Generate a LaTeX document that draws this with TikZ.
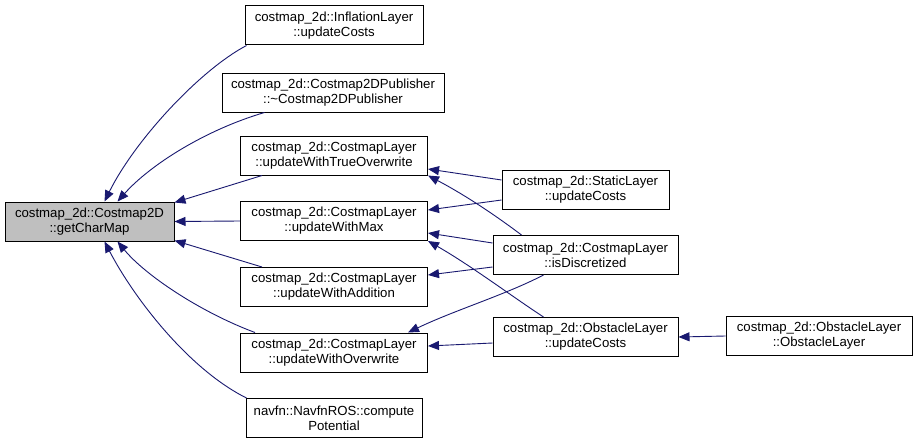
\documentclass[tikz,border=0pt]{standalone}
\usepackage{fontspec}
\setmainfont{Liberation Sans}
\usetikzlibrary{arrows.meta}
\definecolor{edgecol}{HTML}{191970}
\definecolor{rootfill}{HTML}{BFBFBF}
\begin{document}
\begin{tikzpicture}[x=1pt,y=-1pt,
  box/.style={draw=black,line width=1pt,fill=white,minimum height=39pt,inner sep=0pt,align=center,font=\fontsize{13.2}{15}\selectfont},
  edge/.style={draw=edgecol,line width=0.9pt,-{Triangle[length=11pt,width=9pt]}}]
\useasboundingbox (0,0) rectangle (917,444);
\fill[white] (0,0) rectangle (917,444);
\node[box,fill=rootfill,minimum width=169pt] (root) at (89.5,221.5) {costmap\_2d::Costmap2D\\::getCharMap};
\node[box,minimum width=178pt] (infl) at (334,25.5) {costmap\_2d::InflationLayer\\::updateCosts};
\node[box,minimum width=222pt] (pub) at (333,92.5) {costmap\_2d::Costmap2DPublisher\\::\textasciitilde Costmap2DPublisher};
\node[box,minimum width=187pt] (tow) at (334,155.5) {costmap\_2d::CostmapLayer\\::updateWithTrueOverwrite};
\node[box,minimum width=187pt] (max) at (334,221) {costmap\_2d::CostmapLayer\\::updateWithMax};
\node[box,minimum width=187pt] (add) at (334,287) {costmap\_2d::CostmapLayer\\::updateWithAddition};
\node[box,minimum width=187pt] (ow) at (334,352.5) {costmap\_2d::CostmapLayer\\::updateWithOverwrite};
\node[box,minimum width=176pt] (navfn) at (334,418) {navfn::NavfnROS::compute\\Potential};
\node[box,minimum width=167pt] (static) at (585.5,190) {costmap\_2d::StaticLayer\\::updateCosts};
\node[box,minimum width=185pt] (isd) at (585.5,255) {costmap\_2d::CostmapLayer\\::isDiscretized};
\node[box,minimum width=185pt] (obu) at (585.5,337) {costmap\_2d::ObstacleLayer\\::updateCosts};
\node[box,minimum width=186pt] (obl) at (819,336) {costmap\_2d::ObstacleLayer\\::ObstacleLayer};
% edges to root
\draw[edge] ([xshift=2pt]infl.south west) .. controls (200,70) and (135,140) .. ([xshift=15pt]root.north);
\draw[edge] ([xshift=43pt]pub.south west) .. controls (205,130) and (150,165) .. ([xshift=28pt]root.north);
\draw[edge] ([xshift=22pt]tow.south west) -- ([yshift=-1pt]root.north east);
\draw[edge] (max.west) -- (root.east);
\draw[edge] ([xshift=22pt]add.north west) -- ([yshift=1pt]root.south east);
\draw[edge] ([xshift=15pt]ow.north west) .. controls (200,312) and (145,275) .. ([xshift=28pt]root.south);
\draw[edge] ([xshift=1pt]navfn.north west) .. controls (190,370) and (135,300) .. ([xshift=15pt]root.south);
% second column
\draw[edge] ([yshift=10pt]static.west) -- ([yshift=-13.5pt]tow.east);
\draw[edge] ([yshift=-10pt]static.west) -- ([yshift=11pt]max.east);
\draw[edge] ([xshift=29pt]isd.north west) .. controls (495,215) and (465,195) .. (tow.south east);
\draw[edge] ([yshift=12pt]isd.west) -- ([yshift=-12pt]max.east);
\draw[edge] ([yshift=-12pt]isd.west) -- ([yshift=12pt]add.east);
\draw[edge] ([xshift=51pt]isd.south west) .. controls (505,295) and (455,310) .. ([xshift=-20pt]ow.north east);
\draw[edge] ([xshift=51pt]obu.north west) .. controls (510,295) and (470,265) .. (max.south east);
\draw[edge] ([yshift=-6pt]obu.west) -- ([yshift=6.5pt]ow.east);
\draw[edge] (obl.west) -- (obu.east);
\end{tikzpicture}
\end{document}
